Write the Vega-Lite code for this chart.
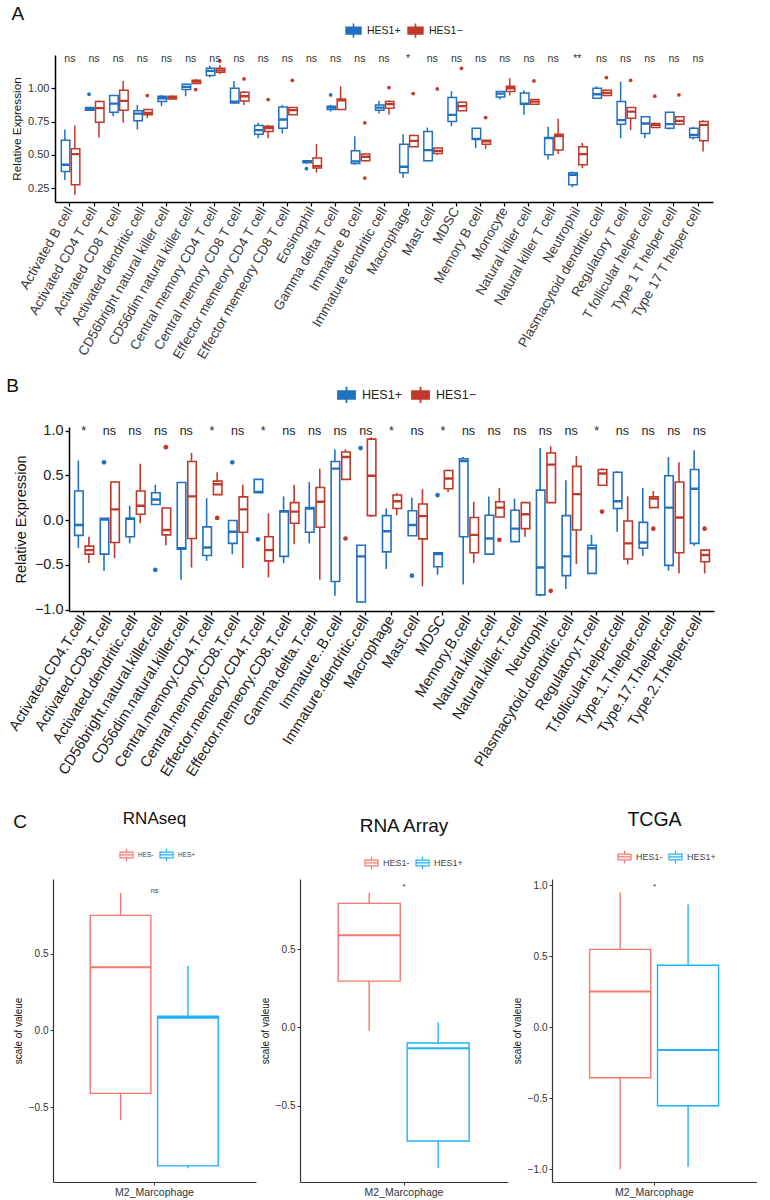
{
"$schema": "https://vega.github.io/schema/vega-lite/v6.json",
"padding": {"left": 5, "top": 5, "right": 0, "bottom": 0},
"background": "white",
"config": {
  "view": {"stroke": null},
  "font": "Liberation Sans",
  "axis": {"grid": false, "domainColor": "#000", "tickColor": "#000", "labelFont": "Liberation Sans", "titleFont": "Liberation Sans", "titleFontWeight": "normal", "titleColor": "#111", "labelColor": "#333"},
  "legend": {"labelFont": "Liberation Sans", "padding": 0},
  "title": {"font": "Liberation Sans", "fontWeight": "normal", "color": "#111"},
  "text": {"font": "Liberation Sans"}
},
"datasets": {
  "aBox": [
    {"cell":"Activated B cell","g":"HES1+","lo":0.31,"q1":0.375,"med":0.425,"q3":0.61,"hi":0.69},
    {"cell":"Activated B cell","g":"HES1−","lo":0.2,"q1":0.275,"med":0.505,"q3":0.545,"hi":0.72},
    {"cell":"Activated CD4 T cell","g":"HES1+","lo":0.83,"q1":0.835,"med":0.845,"q3":0.855,"hi":0.86},
    {"cell":"Activated CD4 T cell","g":"HES1−","lo":0.63,"q1":0.745,"med":0.85,"q3":0.9,"hi":0.91},
    {"cell":"Activated CD8 T cell","g":"HES1+","lo":0.79,"q1":0.82,"med":0.885,"q3":0.945,"hi":0.95},
    {"cell":"Activated CD8 T cell","g":"HES1−","lo":0.74,"q1":0.835,"med":0.905,"q3":0.985,"hi":1.055},
    {"cell":"Activated dendritic cell","g":"HES1+","lo":0.69,"q1":0.755,"med":0.81,"q3":0.83,"hi":0.875},
    {"cell":"Activated dendritic cell","g":"HES1−","lo":0.775,"q1":0.8,"med":0.815,"q3":0.84,"hi":0.845},
    {"cell":"CD56bright natural killer cell","g":"HES1+","lo":0.865,"q1":0.9,"med":0.925,"q3":0.94,"hi":0.95},
    {"cell":"CD56bright natural killer cell","g":"HES1−","lo":0.915,"q1":0.92,"med":0.93,"q3":0.94,"hi":0.945},
    {"cell":"CD56dim natural killer cell","g":"HES1+","lo":0.94,"q1":0.99,"med":1.01,"q3":1.03,"hi":1.035},
    {"cell":"CD56dim natural killer cell","g":"HES1−","lo":1.03,"q1":1.035,"med":1.05,"q3":1.06,"hi":1.07},
    {"cell":"Central memory CD4 T cell","g":"HES1+","lo":1.08,"q1":1.095,"med":1.13,"q3":1.15,"hi":1.17},
    {"cell":"Central memory CD4 T cell","g":"HES1−","lo":1.105,"q1":1.12,"med":1.135,"q3":1.15,"hi":1.175},
    {"cell":"Central memory CD8 T cell","g":"HES1+","lo":0.885,"q1":0.89,"med":0.9,"q3":1.0,"hi":1.055},
    {"cell":"Central memory CD8 T cell","g":"HES1−","lo":0.875,"q1":0.905,"med":0.94,"q3":0.97,"hi":0.98},
    {"cell":"Effector memeory CD4 T cell","g":"HES1+","lo":0.625,"q1":0.655,"med":0.685,"q3":0.72,"hi":0.74},
    {"cell":"Effector memeory CD4 T cell","g":"HES1−","lo":0.625,"q1":0.675,"med":0.7,"q3":0.715,"hi":0.725},
    {"cell":"Effector memeory CD8 T cell","g":"HES1+","lo":0.66,"q1":0.7,"med":0.765,"q3":0.86,"hi":0.875},
    {"cell":"Effector memeory CD8 T cell","g":"HES1−","lo":0.8,"q1":0.8,"med":0.835,"q3":0.855,"hi":0.855},
    {"cell":"Eosinophil","g":"HES1+","lo":0.435,"q1":0.44,"med":0.45,"q3":0.455,"hi":0.46},
    {"cell":"Eosinophil","g":"HES1−","lo":0.365,"q1":0.4,"med":0.415,"q3":0.475,"hi":0.58},
    {"cell":"Gamma delta T cell","g":"HES1+","lo":0.825,"q1":0.84,"med":0.855,"q3":0.865,"hi":0.875},
    {"cell":"Gamma delta T cell","g":"HES1−","lo":0.84,"q1":0.84,"med":0.91,"q3":0.92,"hi":1.015},
    {"cell":"Immature B cell","g":"HES1+","lo":0.425,"q1":0.435,"med":0.45,"q3":0.53,"hi":0.64},
    {"cell":"Immature B cell","g":"HES1−","lo":0.45,"q1":0.455,"med":0.485,"q3":0.505,"hi":0.51},
    {"cell":"Immature dendritic cell","g":"HES1+","lo":0.81,"q1":0.835,"med":0.855,"q3":0.875,"hi":0.905},
    {"cell":"Immature dendritic cell","g":"HES1−","lo":0.8,"q1":0.85,"med":0.88,"q3":0.9,"hi":0.91},
    {"cell":"Macrophage","g":"HES1+","lo":0.325,"q1":0.365,"med":0.41,"q3":0.58,"hi":0.655},
    {"cell":"Macrophage","g":"HES1−","lo":0.56,"q1":0.56,"med":0.605,"q3":0.645,"hi":0.65},
    {"cell":"Mast cell","g":"HES1+","lo":0.45,"q1":0.455,"med":0.535,"q3":0.675,"hi":0.705},
    {"cell":"Mast cell","g":"HES1−","lo":0.5,"q1":0.51,"med":0.53,"q3":0.55,"hi":0.55},
    {"cell":"MDSC","g":"HES1+","lo":0.715,"q1":0.75,"med":0.8,"q3":0.93,"hi":0.98},
    {"cell":"MDSC","g":"HES1−","lo":0.83,"q1":0.83,"med":0.865,"q3":0.895,"hi":0.9},
    {"cell":"Memory B cell","g":"HES1+","lo":0.55,"q1":0.615,"med":0.62,"q3":0.7,"hi":0.7},
    {"cell":"Memory B cell","g":"HES1−","lo":0.545,"q1":0.58,"med":0.6,"q3":0.61,"hi":0.61},
    {"cell":"Monocyte","g":"HES1+","lo":0.915,"q1":0.935,"med":0.96,"q3":0.975,"hi":0.98},
    {"cell":"Monocyte","g":"HES1−","lo":0.945,"q1":0.975,"med":1.0,"q3":1.015,"hi":1.075},
    {"cell":"Natural killer cell","g":"HES1+","lo":0.8,"q1":0.88,"med":0.885,"q3":0.965,"hi":0.985},
    {"cell":"Natural killer cell","g":"HES1−","lo":0.88,"q1":0.88,"med":0.9,"q3":0.915,"hi":0.915},
    {"cell":"Natural killer T cell","g":"HES1+","lo":0.465,"q1":0.5,"med":0.625,"q3":0.63,"hi":0.71},
    {"cell":"Natural killer T cell","g":"HES1−","lo":0.505,"q1":0.535,"med":0.64,"q3":0.655,"hi":0.77},
    {"cell":"Neutrophil","g":"HES1+","lo":0.255,"q1":0.275,"med":0.35,"q3":0.365,"hi":0.375},
    {"cell":"Neutrophil","g":"HES1−","lo":0.4,"q1":0.425,"med":0.505,"q3":0.56,"hi":0.59},
    {"cell":"Plasmacytoid dendritic cell","g":"HES1+","lo":0.925,"q1":0.925,"med":0.955,"q3":1.0,"hi":1.015},
    {"cell":"Plasmacytoid dendritic cell","g":"HES1−","lo":0.94,"q1":0.945,"med":0.965,"q3":0.985,"hi":0.99},
    {"cell":"Regulatory T cell","g":"HES1+","lo":0.625,"q1":0.73,"med":0.76,"q3":0.9,"hi":1.05},
    {"cell":"Regulatory T cell","g":"HES1−","lo":0.685,"q1":0.775,"med":0.825,"q3":0.855,"hi":0.855},
    {"cell":"T follicular helper cell","g":"HES1+","lo":0.625,"q1":0.66,"med":0.735,"q3":0.785,"hi":0.79},
    {"cell":"T follicular helper cell","g":"HES1−","lo":0.705,"q1":0.705,"med":0.725,"q3":0.735,"hi":0.74},
    {"cell":"Type 1 T helper cell","g":"HES1+","lo":0.69,"q1":0.7,"med":0.73,"q3":0.82,"hi":0.82},
    {"cell":"Type 1 T helper cell","g":"HES1−","lo":0.73,"q1":0.73,"med":0.755,"q3":0.785,"hi":0.79},
    {"cell":"Type 17 T helper cell","g":"HES1+","lo":0.615,"q1":0.63,"med":0.65,"q3":0.7,"hi":0.71},
    {"cell":"Type 17 T helper cell","g":"HES1−","lo":0.525,"q1":0.605,"med":0.725,"q3":0.75,"hi":0.76}
  ],
  "aOut": [
    {"cell":"Activated CD4 T cell","g":"HES1+","v":0.955},
    {"cell":"Activated dendritic cell","g":"HES1−","v":0.945},
    {"cell":"CD56dim natural killer cell","g":"HES1−","v":0.99},
    {"cell":"Central memory CD4 T cell","g":"HES1−","v":1.205},
    {"cell":"Central memory CD8 T cell","g":"HES1−","v":1.07},
    {"cell":"Effector memeory CD4 T cell","g":"HES1−","v":0.915},
    {"cell":"Effector memeory CD8 T cell","g":"HES1−","v":1.06},
    {"cell":"Eosinophil","g":"HES1+","v":0.395},
    {"cell":"Gamma delta T cell","g":"HES1+","v":0.95},
    {"cell":"Immature B cell","g":"HES1−","v":0.74},
    {"cell":"Immature B cell","g":"HES1−","v":0.325},
    {"cell":"Immature dendritic cell","g":"HES1−","v":1.005},
    {"cell":"Macrophage","g":"HES1−","v":0.96},
    {"cell":"Mast cell","g":"HES1−","v":0.995},
    {"cell":"MDSC","g":"HES1−","v":1.15},
    {"cell":"Memory B cell","g":"HES1−","v":0.78},
    {"cell":"Natural killer cell","g":"HES1−","v":1.055},
    {"cell":"Plasmacytoid dendritic cell","g":"HES1−","v":1.08},
    {"cell":"Regulatory T cell","g":"HES1−","v":1.06},
    {"cell":"T follicular helper cell","g":"HES1−","v":0.94},
    {"cell":"Type 1 T helper cell","g":"HES1−","v":0.95}
  ],
  "aSig": [
    {"cell":"Activated B cell","lab":"ns"},{"cell":"Activated CD4 T cell","lab":"ns"},{"cell":"Activated CD8 T cell","lab":"ns"},{"cell":"Activated dendritic cell","lab":"ns"},{"cell":"CD56bright natural killer cell","lab":"ns"},{"cell":"CD56dim natural killer cell","lab":"ns"},{"cell":"Central memory CD4 T cell","lab":"ns"},{"cell":"Central memory CD8 T cell","lab":"ns"},{"cell":"Effector memeory CD4 T cell","lab":"ns"},{"cell":"Effector memeory CD8 T cell","lab":"ns"},{"cell":"Eosinophil","lab":"ns"},{"cell":"Gamma delta T cell","lab":"ns"},{"cell":"Immature B cell","lab":"ns"},{"cell":"Immature dendritic cell","lab":"ns"},{"cell":"Macrophage","lab":"*"},{"cell":"Mast cell","lab":"ns"},{"cell":"MDSC","lab":"ns"},{"cell":"Memory B cell","lab":"ns"},{"cell":"Monocyte","lab":"ns"},{"cell":"Natural killer cell","lab":"ns"},{"cell":"Natural killer T cell","lab":"ns"},{"cell":"Neutrophil","lab":"**"},{"cell":"Plasmacytoid dendritic cell","lab":"ns"},{"cell":"Regulatory T cell","lab":"ns"},{"cell":"T follicular helper cell","lab":"ns"},{"cell":"Type 1 T helper cell","lab":"ns"},{"cell":"Type 17 T helper cell","lab":"ns"}
  ],
  "bBox": [
    {"cell":"Activated.CD4.T.cell","g":"HES1+","lo":-0.31,"q1":-0.17,"med":-0.055,"q3":0.325,"hi":0.665},
    {"cell":"Activated.CD4.T.cell","g":"HES1−","lo":-0.48,"q1":-0.38,"med":-0.335,"q3":-0.29,"hi":-0.185},
    {"cell":"Activated.CD8.T.cell","g":"HES1+","lo":-0.565,"q1":-0.38,"med":0.005,"q3":0.02,"hi":0.02},
    {"cell":"Activated.CD8.T.cell","g":"HES1−","lo":-0.425,"q1":-0.25,"med":0.12,"q3":0.425,"hi":0.435},
    {"cell":"Activated.dendritic.cell","g":"HES1+","lo":-0.26,"q1":-0.185,"med":0.015,"q3":0.02,"hi":0.16},
    {"cell":"Activated.dendritic.cell","g":"HES1−","lo":-0.035,"q1":0.065,"med":0.16,"q3":0.325,"hi":0.63},
    {"cell":"CD56bright.natural.killer.cell","g":"HES1+","lo":0.175,"q1":0.175,"med":0.23,"q3":0.305,"hi":0.395},
    {"cell":"CD56bright.natural.killer.cell","g":"HES1−","lo":-0.28,"q1":-0.165,"med":-0.11,"q3":0.135,"hi":0.135},
    {"cell":"CD56dim.natural.killer.cell","g":"HES1+","lo":-0.665,"q1":-0.325,"med":-0.315,"q3":0.42,"hi":0.42},
    {"cell":"CD56dim.natural.killer.cell","g":"HES1−","lo":-0.53,"q1":-0.205,"med":0.265,"q3":0.655,"hi":0.75},
    {"cell":"Central.memory.CD4.T.cell","g":"HES1+","lo":-0.455,"q1":-0.395,"med":-0.305,"q3":-0.075,"hi":0.245},
    {"cell":"Central.memory.CD4.T.cell","g":"HES1−","lo":0.285,"q1":0.285,"med":0.4,"q3":0.435,"hi":0.535},
    {"cell":"Central.memory.CD8.T.cell","g":"HES1+","lo":-0.38,"q1":-0.26,"med":-0.13,"q3":-0.005,"hi":-0.005},
    {"cell":"Central.memory.CD8.T.cell","g":"HES1−","lo":-0.535,"q1":-0.135,"med":0.12,"q3":0.26,"hi":0.395},
    {"cell":"Effector.memeory.CD4.T.cell","g":"HES1+","lo":0.305,"q1":0.305,"med":0.315,"q3":0.455,"hi":0.455},
    {"cell":"Effector.memeory.CD4.T.cell","g":"HES1−","lo":-0.64,"q1":-0.455,"med":-0.335,"q3":-0.185,"hi":0.075},
    {"cell":"Effector.memeory.CD8.T.cell","g":"HES1+","lo":-0.48,"q1":-0.405,"med":0.095,"q3":0.105,"hi":0.265},
    {"cell":"Effector.memeory.CD8.T.cell","g":"HES1−","lo":-0.27,"q1":-0.035,"med":0.095,"q3":0.195,"hi":0.395},
    {"cell":"Gamma.delta.T.cell","g":"HES1+","lo":-0.26,"q1":-0.135,"med":0.13,"q3":0.14,"hi":0.425},
    {"cell":"Gamma.delta.T.cell","g":"HES1−","lo":-0.665,"q1":-0.08,"med":0.205,"q3":0.365,"hi":0.575},
    {"cell":"Immature..B.cell","g":"HES1+","lo":-0.845,"q1":-0.685,"med":0.575,"q3":0.655,"hi":0.79},
    {"cell":"Immature..B.cell","g":"HES1−","lo":0.455,"q1":0.455,"med":0.705,"q3":0.76,"hi":0.79},
    {"cell":"Immature.dendritic.cell","g":"HES1+","lo":-0.925,"q1":-0.915,"med":-0.405,"q3":-0.28,"hi":-0.28},
    {"cell":"Immature.dendritic.cell","g":"HES1−","lo":0.035,"q1":0.05,"med":0.495,"q3":0.905,"hi":0.925},
    {"cell":"Macrophage","g":"HES1+","lo":-0.545,"q1":-0.355,"med":-0.125,"q3":0.05,"hi":0.13},
    {"cell":"Macrophage","g":"HES1−","lo":0.055,"q1":0.13,"med":0.21,"q3":0.28,"hi":0.305},
    {"cell":"Mast.cell","g":"HES1+","lo":-0.175,"q1":-0.175,"med":-0.055,"q3":0.105,"hi":0.25},
    {"cell":"Mast.cell","g":"HES1−","lo":-0.74,"q1":-0.21,"med":0.045,"q3":0.18,"hi":0.345},
    {"cell":"MDSC","g":"HES1+","lo":-0.61,"q1":-0.52,"med":-0.38,"q3":-0.365,"hi":-0.365},
    {"cell":"MDSC","g":"HES1−","lo":0.315,"q1":0.35,"med":0.465,"q3":0.555,"hi":0.565},
    {"cell":"Memory.B.cell","g":"HES1+","lo":-0.72,"q1":-0.185,"med":0.66,"q3":0.685,"hi":0.705},
    {"cell":"Memory.B.cell","g":"HES1−","lo":-0.48,"q1":-0.365,"med":-0.165,"q3":0.03,"hi":0.205},
    {"cell":"Natural.killer.cell","g":"HES1+","lo":-0.38,"q1":-0.38,"med":-0.205,"q3":0.055,"hi":0.265},
    {"cell":"Natural.killer.cell","g":"HES1−","lo":0.035,"q1":0.035,"med":0.14,"q3":0.205,"hi":0.36},
    {"cell":"Natural.killer.T.cell","g":"HES1+","lo":-0.24,"q1":-0.24,"med":-0.095,"q3":0.11,"hi":0.24},
    {"cell":"Natural.killer.T.cell","g":"HES1−","lo":-0.185,"q1":-0.095,"med":0.065,"q3":0.195,"hi":0.205},
    {"cell":"Neutrophil","g":"HES1+","lo":-0.85,"q1":-0.835,"med":-0.53,"q3":0.335,"hi":0.805},
    {"cell":"Neutrophil","g":"HES1−","lo":0.195,"q1":0.195,"med":0.62,"q3":0.75,"hi":0.825},
    {"cell":"Plasmacytoid.dendritic.cell","g":"HES1+","lo":-0.77,"q1":-0.62,"med":-0.405,"q3":0.05,"hi":0.445},
    {"cell":"Plasmacytoid.dendritic.cell","g":"HES1−","lo":-0.49,"q1":-0.11,"med":0.29,"q3":0.6,"hi":0.715},
    {"cell":"Regulatory.T.cell","g":"HES1+","lo":-0.595,"q1":-0.595,"med":-0.315,"q3":-0.28,"hi":-0.165},
    {"cell":"Regulatory.T.cell","g":"HES1−","lo":0.39,"q1":0.39,"med":0.52,"q3":0.565,"hi":0.58},
    {"cell":"T.follicular.helper.cell","g":"HES1+","lo":-0.13,"q1":0.13,"med":0.21,"q3":0.535,"hi":0.545},
    {"cell":"T.follicular.helper.cell","g":"HES1−","lo":-0.495,"q1":-0.435,"med":-0.26,"q3":-0.01,"hi":0.265},
    {"cell":"Type.1.T.helper.cell","g":"HES1+","lo":-0.4,"q1":-0.315,"med":-0.25,"q3":-0.025,"hi":0.36},
    {"cell":"Type.1.T.helper.cell","g":"HES1−","lo":0.14,"q1":0.14,"med":0.24,"q3":0.26,"hi":0.325},
    {"cell":"Type.17.T.helper.cell","g":"HES1+","lo":-0.565,"q1":-0.505,"med":0.14,"q3":0.495,"hi":0.705},
    {"cell":"Type.17.T.helper.cell","g":"HES1−","lo":-0.595,"q1":-0.365,"med":0.03,"q3":0.425,"hi":0.645},
    {"cell":"Type.2.T.helper.cell","g":"HES1+","lo":-0.285,"q1":-0.26,"med":0.35,"q3":0.565,"hi":0.78},
    {"cell":"Type.2.T.helper.cell","g":"HES1−","lo":-0.595,"q1":-0.465,"med":-0.39,"q3":-0.335,"hi":-0.335}
  ],
  "bOut": [
    {"cell":"Activated.CD8.T.cell","g":"HES1+","v":0.645},
    {"cell":"CD56bright.natural.killer.cell","g":"HES1+","v":-0.555},
    {"cell":"CD56bright.natural.killer.cell","g":"HES1−","v":0.815},
    {"cell":"Central.memory.CD4.T.cell","g":"HES1−","v":0.025},
    {"cell":"Central.memory.CD8.T.cell","g":"HES1+","v":0.645},
    {"cell":"Effector.memeory.CD4.T.cell","g":"HES1+","v":-0.215},
    {"cell":"Immature..B.cell","g":"HES1−","v":-0.205},
    {"cell":"Immature.dendritic.cell","g":"HES1+","v":0.805},
    {"cell":"Mast.cell","g":"HES1+","v":-0.62},
    {"cell":"MDSC","g":"HES1+","v":0.28},
    {"cell":"Natural.killer.cell","g":"HES1−","v":-0.22},
    {"cell":"Neutrophil","g":"HES1−","v":-0.79},
    {"cell":"Regulatory.T.cell","g":"HES1−","v":0.095},
    {"cell":"Type.1.T.helper.cell","g":"HES1−","v":-0.095},
    {"cell":"Type.2.T.helper.cell","g":"HES1−","v":-0.095}
  ],
  "bSig": [
    {"cell":"Activated.CD4.T.cell","lab":"*"},{"cell":"Activated.CD8.T.cell","lab":"ns"},{"cell":"Activated.dendritic.cell","lab":"ns"},{"cell":"CD56bright.natural.killer.cell","lab":"ns"},{"cell":"CD56dim.natural.killer.cell","lab":"ns"},{"cell":"Central.memory.CD4.T.cell","lab":"*"},{"cell":"Central.memory.CD8.T.cell","lab":"ns"},{"cell":"Effector.memeory.CD4.T.cell","lab":"*"},{"cell":"Effector.memeory.CD8.T.cell","lab":"ns"},{"cell":"Gamma.delta.T.cell","lab":"ns"},{"cell":"Immature..B.cell","lab":"ns"},{"cell":"Immature.dendritic.cell","lab":"ns"},{"cell":"Macrophage","lab":"*"},{"cell":"Mast.cell","lab":"ns"},{"cell":"MDSC","lab":"*"},{"cell":"Memory.B.cell","lab":"ns"},{"cell":"Natural.killer.cell","lab":"ns"},{"cell":"Natural.killer.T.cell","lab":"ns"},{"cell":"Neutrophil","lab":"ns"},{"cell":"Plasmacytoid.dendritic.cell","lab":"ns"},{"cell":"Regulatory.T.cell","lab":"*"},{"cell":"T.follicular.helper.cell","lab":"ns"},{"cell":"Type.1.T.helper.cell","lab":"ns"},{"cell":"Type.17.T.helper.cell","lab":"ns"},{"cell":"Type.2.T.helper.cell","lab":"ns"}
  ],
  "cR": [
    {"grp":"M2_Marcophage","g":"HES-","lo":-0.585,"q1":-0.41,"med":0.41,"q3":0.748,"hi":0.895},
    {"grp":"M2_Marcophage","g":"HES+","lo":-0.897,"q1":-0.882,"med":0.082,"q3":0.092,"hi":0.42}
  ],
  "cA": [
    {"grp":"M2_Marcophage","g":"HES1-","lo":-0.022,"q1":0.296,"med":0.589,"q3":0.793,"hi":0.86},
    {"grp":"M2_Marcophage","g":"HES1+","lo":-0.9,"q1":-0.727,"med":-0.133,"q3":-0.1,"hi":0.033}
  ],
  "cT": [
    {"grp":"M2_Marcophage","g":"HES1-","lo":-0.998,"q1":-0.355,"med":0.252,"q3":0.548,"hi":0.948},
    {"grp":"M2_Marcophage","g":"HES1+","lo":-0.981,"q1":-0.552,"med":-0.16,"q3":0.436,"hi":0.864}
  ],
  "cRs": [{"grp":"M2_Marcophage","lab":"ns"}],
  "cAs": [{"grp":"M2_Marcophage","lab":"*"}],
  "cTs": [{"grp":"M2_Marcophage","lab":"*"}]
},
"vconcat": [
{
 "spacing": 0,
 "resolve": {"scale": {"color": "independent", "xOffset": "independent"}, "legend": {"color": "independent"}},
 "hconcat": [
 {"width": 6, "height": 1, "data": {"values": []}, "mark": {"type": "point", "opacity": 0}, "encoding": {}},
 {
  "width": 658, "height": 147,
  "title": {"text": "A", "anchor": "start", "frame": "bounds", "fontSize": 19, "offset": -2},
  "encoding": {"x": {"field": "cell", "type": "nominal", "title": null,
    "scale": {"type": "band", "domain": ["Activated B cell","Activated CD4 T cell","Activated CD8 T cell","Activated dendritic cell","CD56bright natural killer cell","CD56dim natural killer cell","Central memory CD4 T cell","Central memory CD8 T cell","Effector memeory CD4 T cell","Effector memeory CD8 T cell","Eosinophil","Gamma delta T cell","Immature B cell","Immature dendritic cell","Macrophage","Mast cell","MDSC","Memory B cell","Monocyte","Natural killer cell","Natural killer T cell","Neutrophil","Plasmacytoid dendritic cell","Regulatory T cell","T follicular helper cell","Type 1 T helper cell","Type 17 T helper cell"], "paddingInner": 0.17, "paddingOuter": 0.2},
    "axis": {"labelAngle": -60, "labelAlign": "right", "labelBaseline": "middle", "labelFontSize": 13.5, "labelColor": "#3a3a3a", "labelLimit": 400, "tickSize": 4, "domainWidth": 1.5, "tickWidth": 1.2, "labelPadding": 2}}},
  "layer": [
    {"data": {"name": "aBox"}, "mark": {"type": "rule", "strokeWidth": 1.5},
     "encoding": {"xOffset": {"field": "g", "type": "nominal", "scale": {"domain": ["HES1+","HES1−"], "range": [0, 20], "paddingInner": 0, "paddingOuter": 0}},
       "y": {"field": "lo", "type": "quantitative", "title": "Relative Expression", "scale": {"domain": [0.145, 1.25], "nice": false, "zero": false},
         "axis": {"values": [0.25, 0.5, 0.75, 1.0], "format": ".2f", "labelFontSize": 11, "titleFontSize": 11.7, "tickSize": 4, "domainWidth": 1.5, "tickWidth": 1.2, "titlePadding": 5}},
       "y2": {"field": "q1"},
       "color": {"field": "g", "type": "nominal", "scale": {"domain": ["HES1+","HES1−"], "range": ["#2171c0","#c0392b"]},
         "legend": {"title": null, "orient": "none", "legendX": 290, "legendY": -33, "direction": "horizontal", "symbolType": "M-1,-0.45H1V0.45H-1Z M-1,0H1 M0,-0.45V-0.95 M0,0.45V0.95", "symbolSize": 220, "symbolStrokeWidth": 1.6, "labelFontSize": 10.5, "labelColor": "#222", "columnPadding": 3, "labelOffset": 5, "encode": {"symbols": {"update": {"fill": {"value": "white"}}}}}}}},
    {"data": {"name": "aBox"}, "mark": {"type": "rule", "strokeWidth": 1.5},
     "encoding": {"xOffset": {"field": "g", "type": "nominal", "scale": {"domain": ["HES1+","HES1−"], "range": [0, 20], "paddingInner": 0, "paddingOuter": 0}},
       "y": {"field": "q3", "type": "quantitative", "title": "Relative Expression", "scale": {"domain": [0.145, 1.25], "nice": false, "zero": false},
         "axis": {"values": [0.25, 0.5, 0.75, 1.0], "format": ".2f", "labelFontSize": 11, "titleFontSize": 11.7, "tickSize": 4, "domainWidth": 1.5, "tickWidth": 1.2, "titlePadding": 5}},
       "y2": {"field": "hi"},
       "color": {"field": "g", "type": "nominal", "scale": {"domain": ["HES1+","HES1−"], "range": ["#2171c0","#c0392b"]}, "legend": null}}},
    {"data": {"name": "aBox"}, "mark": {"type": "bar", "filled": false, "strokeWidth": 1.5, "width": {"band": 0.85}},
     "encoding": {"xOffset": {"field": "g", "type": "nominal", "scale": {"domain": ["HES1+","HES1−"], "range": [0, 20], "paddingInner": 0, "paddingOuter": 0}},
       "y": {"field": "q1", "type": "quantitative", "title": "Relative Expression", "scale": {"domain": [0.145, 1.25], "nice": false, "zero": false},
         "axis": {"values": [0.25, 0.5, 0.75, 1.0], "format": ".2f", "labelFontSize": 11, "titleFontSize": 11.7, "tickSize": 4, "domainWidth": 1.5, "tickWidth": 1.2, "titlePadding": 5}},
       "y2": {"field": "q3"},
       "color": {"field": "g", "type": "nominal", "scale": {"domain": ["HES1+","HES1−"], "range": ["#2171c0","#c0392b"]}, "legend": null}}},
    {"data": {"name": "aBox"}, "mark": {"type": "bar", "filled": false, "strokeWidth": 2.3, "width": {"band": 0.85}},
     "encoding": {"xOffset": {"field": "g", "type": "nominal", "scale": {"domain": ["HES1+","HES1−"], "range": [0, 20], "paddingInner": 0, "paddingOuter": 0}},
       "y": {"field": "med", "type": "quantitative", "title": "Relative Expression", "scale": {"domain": [0.145, 1.25], "nice": false, "zero": false},
         "axis": {"values": [0.25, 0.5, 0.75, 1.0], "format": ".2f", "labelFontSize": 11, "titleFontSize": 11.7, "tickSize": 4, "domainWidth": 1.5, "tickWidth": 1.2, "titlePadding": 5}},
       "y2": {"field": "med"},
       "color": {"field": "g", "type": "nominal", "scale": {"domain": ["HES1+","HES1−"], "range": ["#2171c0","#c0392b"]}, "legend": null}}},
    {"data": {"name": "aOut"}, "mark": {"type": "point", "filled": true, "size": 14, "opacity": 1},
     "encoding": {"xOffset": {"field": "g", "type": "nominal", "scale": {"domain": ["HES1+","HES1−"], "range": [0, 20], "paddingInner": 0, "paddingOuter": 0}},
       "y": {"field": "v", "type": "quantitative", "title": "Relative Expression", "scale": {"domain": [0.145, 1.25], "nice": false, "zero": false},
         "axis": {"values": [0.25, 0.5, 0.75, 1.0], "format": ".2f", "labelFontSize": 11, "titleFontSize": 11.7, "tickSize": 4, "domainWidth": 1.5, "tickWidth": 1.2, "titlePadding": 5}},
       "color": {"field": "g", "type": "nominal", "scale": {"domain": ["HES1+","HES1−"], "range": ["#2171c0","#c0392b"]}, "legend": null}}},
    {"data": {"name": "aSig"}, "mark": {"type": "text", "fontSize": 10.5, "color": "#333"},
     "encoding": {"y": {"datum": 1.22, "type": "quantitative", "title": "Relative Expression", "scale": {"domain": [0.145, 1.25], "nice": false, "zero": false},
         "axis": {"values": [0.25, 0.5, 0.75, 1.0], "format": ".2f", "labelFontSize": 11, "titleFontSize": 11.7, "tickSize": 4, "domainWidth": 1.5, "tickWidth": 1.2, "titlePadding": 5}}, "text": {"field": "lab"}}}
  ]
 }
 ]
},
{
 "spacing": 30,
 "resolve": {"scale": {"color": "independent", "xOffset": "independent"}, "legend": {"color": "independent"}},
 "vconcat": [
{
 "spacing": 0,
 "resolve": {"scale": {"color": "independent", "xOffset": "independent"}, "legend": {"color": "independent"}},
 "hconcat": [
 {"width": 1, "height": 1, "data": {"values": []}, "mark": {"type": "point", "opacity": 0}, "encoding": {}},
 {
  "width": 645, "height": 184,
  "title": {"text": "B", "anchor": "start", "frame": "bounds", "fontSize": 19, "offset": -11},
  "encoding": {"x": {"field": "cell", "type": "nominal", "title": null,
    "scale": {"type": "band", "domain": ["Activated.CD4.T.cell","Activated.CD8.T.cell","Activated.dendritic.cell","CD56bright.natural.killer.cell","CD56dim.natural.killer.cell","Central.memory.CD4.T.cell","Central.memory.CD8.T.cell","Effector.memeory.CD4.T.cell","Effector.memeory.CD8.T.cell","Gamma.delta.T.cell","Immature..B.cell","Immature.dendritic.cell","Macrophage","Mast.cell","MDSC","Memory.B.cell","Natural.killer.cell","Natural.killer.T.cell","Neutrophil","Plasmacytoid.dendritic.cell","Regulatory.T.cell","T.follicular.helper.cell","Type.1.T.helper.cell","Type.17.T.helper.cell","Type.2.T.helper.cell"], "paddingInner": 0.22, "paddingOuter": 0.18},
    "axis": {"labelAngle": -58, "labelAlign": "right", "labelBaseline": "middle", "labelFontSize": 14.8, "labelColor": "#222", "labelLimit": 400, "tickSize": 4, "domainWidth": 1.5, "tickWidth": 1.3, "labelPadding": 2}}},
  "layer": [
    {"data": {"name": "bBox"}, "mark": {"type": "rule", "strokeWidth": 1.6},
     "encoding": {"xOffset": {"field": "g", "type": "nominal", "scale": {"domain": ["HES1+","HES1−"], "range": [0, 20], "paddingInner": 0.1, "paddingOuter": 0}},
       "y": {"field": "lo", "type": "quantitative", "title": "Relative Expression", "scale": {"domain": [-1.015, 1.04], "nice": false, "zero": false},
         "axis": {"values": [-1, -0.5, 0, 0.5, 1], "format": ".1f", "labelFontSize": 14.5, "labelColor": "#222", "titleFontSize": 14.5, "tickSize": 4, "domainWidth": 1.5, "tickWidth": 1.3, "titlePadding": 6}},
       "y2": {"field": "q1"},
       "color": {"field": "g", "type": "nominal", "scale": {"domain": ["HES1+","HES1−"], "range": ["#2171c0","#c0392b"]},
         "legend": {"title": null, "orient": "none", "legendX": 268, "legendY": -42, "direction": "horizontal", "symbolType": "M-1,-0.45H1V0.45H-1Z M-1,0H1 M0,-0.45V-0.95 M0,0.45V0.95", "symbolSize": 290, "symbolStrokeWidth": 1.8, "labelFontSize": 12.5, "labelColor": "#222", "columnPadding": 6, "labelOffset": 6, "encode": {"symbols": {"update": {"fill": {"value": "white"}}}}}}}},
    {"data": {"name": "bBox"}, "mark": {"type": "rule", "strokeWidth": 1.6},
     "encoding": {"xOffset": {"field": "g", "type": "nominal", "scale": {"domain": ["HES1+","HES1−"], "range": [0, 20], "paddingInner": 0.1, "paddingOuter": 0}},
       "y": {"field": "q3", "type": "quantitative", "title": "Relative Expression", "scale": {"domain": [-1.015, 1.04], "nice": false, "zero": false},
         "axis": {"values": [-1, -0.5, 0, 0.5, 1], "format": ".1f", "labelFontSize": 14.5, "labelColor": "#222", "titleFontSize": 14.5, "tickSize": 4, "domainWidth": 1.5, "tickWidth": 1.3, "titlePadding": 6}},
       "y2": {"field": "hi"},
       "color": {"field": "g", "type": "nominal", "scale": {"domain": ["HES1+","HES1−"], "range": ["#2171c0","#c0392b"]}, "legend": null}}},
    {"data": {"name": "bBox"}, "mark": {"type": "bar", "filled": false, "strokeWidth": 1.6, "width": {"band": 0.9}},
     "encoding": {"xOffset": {"field": "g", "type": "nominal", "scale": {"domain": ["HES1+","HES1−"], "range": [0, 20], "paddingInner": 0.1, "paddingOuter": 0}},
       "y": {"field": "q1", "type": "quantitative", "title": "Relative Expression", "scale": {"domain": [-1.015, 1.04], "nice": false, "zero": false},
         "axis": {"values": [-1, -0.5, 0, 0.5, 1], "format": ".1f", "labelFontSize": 14.5, "labelColor": "#222", "titleFontSize": 14.5, "tickSize": 4, "domainWidth": 1.5, "tickWidth": 1.3, "titlePadding": 6}},
       "y2": {"field": "q3"},
       "color": {"field": "g", "type": "nominal", "scale": {"domain": ["HES1+","HES1−"], "range": ["#2171c0","#c0392b"]}, "legend": null}}},
    {"data": {"name": "bBox"}, "mark": {"type": "bar", "filled": false, "strokeWidth": 2.4, "width": {"band": 0.9}},
     "encoding": {"xOffset": {"field": "g", "type": "nominal", "scale": {"domain": ["HES1+","HES1−"], "range": [0, 20], "paddingInner": 0.1, "paddingOuter": 0}},
       "y": {"field": "med", "type": "quantitative", "title": "Relative Expression", "scale": {"domain": [-1.015, 1.04], "nice": false, "zero": false},
         "axis": {"values": [-1, -0.5, 0, 0.5, 1], "format": ".1f", "labelFontSize": 14.5, "labelColor": "#222", "titleFontSize": 14.5, "tickSize": 4, "domainWidth": 1.5, "tickWidth": 1.3, "titlePadding": 6}},
       "y2": {"field": "med"},
       "color": {"field": "g", "type": "nominal", "scale": {"domain": ["HES1+","HES1−"], "range": ["#2171c0","#c0392b"]}, "legend": null}}},
    {"data": {"name": "bOut"}, "mark": {"type": "point", "filled": true, "size": 22, "opacity": 1},
     "encoding": {"xOffset": {"field": "g", "type": "nominal", "scale": {"domain": ["HES1+","HES1−"], "range": [0, 20], "paddingInner": 0.1, "paddingOuter": 0}},
       "y": {"field": "v", "type": "quantitative", "title": "Relative Expression", "scale": {"domain": [-1.015, 1.04], "nice": false, "zero": false},
         "axis": {"values": [-1, -0.5, 0, 0.5, 1], "format": ".1f", "labelFontSize": 14.5, "labelColor": "#222", "titleFontSize": 14.5, "tickSize": 4, "domainWidth": 1.5, "tickWidth": 1.3, "titlePadding": 6}},
       "color": {"field": "g", "type": "nominal", "scale": {"domain": ["HES1+","HES1−"], "range": ["#2171c0","#c0392b"]}, "legend": null}}},
    {"data": {"name": "bSig"}, "mark": {"type": "text", "fontSize": 12.5, "color": "#222"},
     "encoding": {"y": {"datum": 0.99, "type": "quantitative", "title": "Relative Expression", "scale": {"domain": [-1.015, 1.04], "nice": false, "zero": false},
         "axis": {"values": [-1, -0.5, 0, 0.5, 1], "format": ".1f", "labelFontSize": 14.5, "labelColor": "#222", "titleFontSize": 14.5, "tickSize": 4, "domainWidth": 1.5, "tickWidth": 1.3, "titlePadding": 6}}, "text": {"field": "lab"}}}
  ]
 }
 ]
},
{
 "spacing": 0,
 "resolve": {"scale": {"color": "independent", "xOffset": "independent"}, "legend": {"color": "independent"}},
 "hconcat": [
 {"width": 8, "height": 1, "data": {"values": []}, "mark": {"type": "point", "opacity": 0}, "encoding": {}},
 {
  "title": {"text": "C", "anchor": "start", "frame": "bounds", "fontSize": 19, "offset": 0, "dy": 22},
  "spacing": 4,
  "resolve": {"scale": {"color": "independent", "xOffset": "independent"}, "legend": {"color": "independent"}},
  "hconcat": [
    {
      "width": 203, "height": 303,
      "title": {"text": "RNAseq", "fontSize": 17, "offset": 19},
      "encoding": {"x": {"field": "grp", "type": "nominal", "title": null, "scale": {"type": "band", "paddingOuter": 0.29, "paddingInner": 0},
        "axis": {"labelAngle": 0, "labelFontSize": 10.5, "labelColor": "#333", "tickSize": 3, "domainColor": "#333", "tickColor": "#333", "domainWidth": 1.2}}},
      "layer": [
        {"data": {"name": "cR"}, "mark": {"type": "rule", "strokeWidth": 1.4},
         "encoding": {"xOffset": {"field": "g", "type": "nominal", "scale": {"domain": ["HES-","HES+"], "range": [0, 128], "paddingInner": 0.1, "paddingOuter": 0}},
           "y": {"field": "lo", "type": "quantitative", "title": "scale of valeue", "scale": {"domain": [-0.987, 0.985], "nice": false, "zero": false},
             "axis": {"values": [-0.5, 0, 0.5], "format": ".1f", "labelFontSize": 10, "titleFontSize": 10, "tickSize": 3, "domainColor": "#333", "tickColor": "#333", "domainWidth": 1.2, "titlePadding": 5}},
           "y2": {"field": "q1"},
           "color": {"field": "g", "type": "nominal", "scale": {"domain": ["HES-","HES+"], "range": ["#F8766D","#1FB3F5"]},
             "legend": {"title": null, "orient": "none", "legendX": 66, "legendY": -32, "direction": "horizontal", "symbolType": "M-1,-0.45H1V0.45H-1Z M-1,0H1 M0,-0.45V-0.95 M0,0.45V0.95", "symbolSize": 169, "symbolStrokeWidth": 1.2, "labelFontSize": 6.5, "labelColor": "#444", "columnPadding": 3, "labelOffset": 4, "encode": {"symbols": {"update": {"fill": {"value": "white"}}}}}}}},
        {"data": {"name": "cR"}, "mark": {"type": "rule", "strokeWidth": 1.4},
         "encoding": {"xOffset": {"field": "g", "type": "nominal", "scale": {"domain": ["HES-","HES+"], "range": [0, 128], "paddingInner": 0.1, "paddingOuter": 0}},
           "y": {"field": "q3", "type": "quantitative", "title": "scale of valeue", "scale": {"domain": [-0.987, 0.985], "nice": false, "zero": false},
             "axis": {"values": [-0.5, 0, 0.5], "format": ".1f", "labelFontSize": 10, "titleFontSize": 10, "tickSize": 3, "domainColor": "#333", "tickColor": "#333", "domainWidth": 1.2, "titlePadding": 5}},
           "y2": {"field": "hi"},
           "color": {"field": "g", "type": "nominal", "scale": {"domain": ["HES-","HES+"], "range": ["#F8766D","#1FB3F5"]}, "legend": null}}},
        {"data": {"name": "cR"}, "mark": {"type": "bar", "filled": false, "strokeWidth": 1.4, "width": {"band": 1}},
         "encoding": {"xOffset": {"field": "g", "type": "nominal", "scale": {"domain": ["HES-","HES+"], "range": [0, 128], "paddingInner": 0.1, "paddingOuter": 0}},
           "y": {"field": "q1", "type": "quantitative", "title": "scale of valeue", "scale": {"domain": [-0.987, 0.985], "nice": false, "zero": false},
             "axis": {"values": [-0.5, 0, 0.5], "format": ".1f", "labelFontSize": 10, "titleFontSize": 10, "tickSize": 3, "domainColor": "#333", "tickColor": "#333", "domainWidth": 1.2, "titlePadding": 5}},
           "y2": {"field": "q3"},
           "color": {"field": "g", "type": "nominal", "scale": {"domain": ["HES-","HES+"], "range": ["#F8766D","#1FB3F5"]}, "legend": null}}},
        {"data": {"name": "cR"}, "mark": {"type": "bar", "filled": false, "strokeWidth": 2, "width": {"band": 1}},
         "encoding": {"xOffset": {"field": "g", "type": "nominal", "scale": {"domain": ["HES-","HES+"], "range": [0, 128], "paddingInner": 0.1, "paddingOuter": 0}},
           "y": {"field": "med", "type": "quantitative", "title": "scale of valeue", "scale": {"domain": [-0.987, 0.985], "nice": false, "zero": false},
             "axis": {"values": [-0.5, 0, 0.5], "format": ".1f", "labelFontSize": 10, "titleFontSize": 10, "tickSize": 3, "domainColor": "#333", "tickColor": "#333", "domainWidth": 1.2, "titlePadding": 5}},
           "y2": {"field": "med"},
           "color": {"field": "g", "type": "nominal", "scale": {"domain": ["HES-","HES+"], "range": ["#F8766D","#1FB3F5"]}, "legend": null}}},
        {"data": {"name": "cRs"}, "mark": {"type": "text", "fontSize": 7, "color": "#333"},
         "encoding": {"y": {"datum": 0.91, "type": "quantitative", "title": "scale of valeue", "scale": {"domain": [-0.987, 0.985], "nice": false, "zero": false},
             "axis": {"values": [-0.5, 0, 0.5], "format": ".1f", "labelFontSize": 10, "titleFontSize": 10, "tickSize": 3, "domainColor": "#333", "tickColor": "#333", "domainWidth": 1.2, "titlePadding": 5}}, "text": {"field": "lab"}}}
      ]
    },
    {
      "width": 208, "height": 303,
      "title": {"text": "RNA Array", "fontSize": 19, "offset": 19},
      "encoding": {"x": {"field": "grp", "type": "nominal", "title": null, "scale": {"type": "band", "paddingOuter": 0.29, "paddingInner": 0},
        "axis": {"labelAngle": 0, "labelFontSize": 10.5, "labelColor": "#333", "tickSize": 3, "domainColor": "#333", "tickColor": "#333", "domainWidth": 1.2}}},
      "layer": [
        {"data": {"name": "cA"}, "mark": {"type": "rule", "strokeWidth": 1.4},
         "encoding": {"xOffset": {"field": "g", "type": "nominal", "scale": {"domain": ["HES1-","HES1+"], "range": [0, 131], "paddingInner": 0.1, "paddingOuter": 0}},
           "y": {"field": "lo", "type": "quantitative", "title": "scale of valeue", "scale": {"domain": [-0.989, 0.949], "nice": false, "zero": false},
             "axis": {"values": [-0.5, 0, 0.5], "format": ".1f", "labelFontSize": 10, "titleFontSize": 10, "tickSize": 3, "domainColor": "#333", "tickColor": "#333", "domainWidth": 1.2, "titlePadding": 5}},
           "y2": {"field": "q1"},
           "color": {"field": "g", "type": "nominal", "scale": {"domain": ["HES1-","HES1+"], "range": ["#F8766D","#1FB3F5"]},
             "legend": {"title": null, "orient": "none", "legendX": 64, "legendY": -24, "direction": "horizontal", "symbolType": "M-1,-0.45H1V0.45H-1Z M-1,0H1 M0,-0.45V-0.95 M0,0.45V0.95", "symbolSize": 169, "symbolStrokeWidth": 1.2, "labelFontSize": 9, "labelColor": "#444", "columnPadding": 3, "labelOffset": 4, "encode": {"symbols": {"update": {"fill": {"value": "white"}}}}}}}},
        {"data": {"name": "cA"}, "mark": {"type": "rule", "strokeWidth": 1.4},
         "encoding": {"xOffset": {"field": "g", "type": "nominal", "scale": {"domain": ["HES1-","HES1+"], "range": [0, 131], "paddingInner": 0.1, "paddingOuter": 0}},
           "y": {"field": "q3", "type": "quantitative", "title": "scale of valeue", "scale": {"domain": [-0.989, 0.949], "nice": false, "zero": false},
             "axis": {"values": [-0.5, 0, 0.5], "format": ".1f", "labelFontSize": 10, "titleFontSize": 10, "tickSize": 3, "domainColor": "#333", "tickColor": "#333", "domainWidth": 1.2, "titlePadding": 5}},
           "y2": {"field": "hi"},
           "color": {"field": "g", "type": "nominal", "scale": {"domain": ["HES1-","HES1+"], "range": ["#F8766D","#1FB3F5"]}, "legend": null}}},
        {"data": {"name": "cA"}, "mark": {"type": "bar", "filled": false, "strokeWidth": 1.4, "width": {"band": 1}},
         "encoding": {"xOffset": {"field": "g", "type": "nominal", "scale": {"domain": ["HES1-","HES1+"], "range": [0, 131], "paddingInner": 0.1, "paddingOuter": 0}},
           "y": {"field": "q1", "type": "quantitative", "title": "scale of valeue", "scale": {"domain": [-0.989, 0.949], "nice": false, "zero": false},
             "axis": {"values": [-0.5, 0, 0.5], "format": ".1f", "labelFontSize": 10, "titleFontSize": 10, "tickSize": 3, "domainColor": "#333", "tickColor": "#333", "domainWidth": 1.2, "titlePadding": 5}},
           "y2": {"field": "q3"},
           "color": {"field": "g", "type": "nominal", "scale": {"domain": ["HES1-","HES1+"], "range": ["#F8766D","#1FB3F5"]}, "legend": null}}},
        {"data": {"name": "cA"}, "mark": {"type": "bar", "filled": false, "strokeWidth": 2, "width": {"band": 1}},
         "encoding": {"xOffset": {"field": "g", "type": "nominal", "scale": {"domain": ["HES1-","HES1+"], "range": [0, 131], "paddingInner": 0.1, "paddingOuter": 0}},
           "y": {"field": "med", "type": "quantitative", "title": "scale of valeue", "scale": {"domain": [-0.989, 0.949], "nice": false, "zero": false},
             "axis": {"values": [-0.5, 0, 0.5], "format": ".1f", "labelFontSize": 10, "titleFontSize": 10, "tickSize": 3, "domainColor": "#333", "tickColor": "#333", "domainWidth": 1.2, "titlePadding": 5}},
           "y2": {"field": "med"},
           "color": {"field": "g", "type": "nominal", "scale": {"domain": ["HES1-","HES1+"], "range": ["#F8766D","#1FB3F5"]}, "legend": null}}},
        {"data": {"name": "cAs"}, "mark": {"type": "text", "fontSize": 8, "color": "#333"},
         "encoding": {"y": {"datum": 0.9, "type": "quantitative", "title": "scale of valeue", "scale": {"domain": [-0.989, 0.949], "nice": false, "zero": false},
             "axis": {"values": [-0.5, 0, 0.5], "format": ".1f", "labelFontSize": 10, "titleFontSize": 10, "tickSize": 3, "domainColor": "#333", "tickColor": "#333", "domainWidth": 1.2, "titlePadding": 5}}, "text": {"field": "lab"}}}
      ]
    },
    {
      "width": 205, "height": 303,
      "title": {"text": "TCGA", "fontSize": 19.5, "offset": 19},
      "encoding": {"x": {"field": "grp", "type": "nominal", "title": null, "scale": {"type": "band", "paddingOuter": 0.29, "paddingInner": 0},
        "axis": {"labelAngle": 0, "labelFontSize": 10.5, "labelColor": "#333", "tickSize": 3, "domainColor": "#333", "tickColor": "#333", "domainWidth": 1.2}}},
      "layer": [
        {"data": {"name": "cT"}, "mark": {"type": "rule", "strokeWidth": 1.4},
         "encoding": {"xOffset": {"field": "g", "type": "nominal", "scale": {"domain": ["HES1-","HES1+"], "range": [0, 129], "paddingInner": 0.1, "paddingOuter": 0}},
           "y": {"field": "lo", "type": "quantitative", "title": "scale of valeue", "scale": {"domain": [-1.088, 1.043], "nice": false, "zero": false},
             "axis": {"values": [-1, -0.5, 0, 0.5, 1], "format": ".1f", "labelFontSize": 10, "titleFontSize": 10, "tickSize": 3, "domainColor": "#333", "tickColor": "#333", "domainWidth": 1.2, "titlePadding": 5}},
           "y2": {"field": "q1"},
           "color": {"field": "g", "type": "nominal", "scale": {"domain": ["HES1-","HES1+"], "range": ["#F8766D","#1FB3F5"]},
             "legend": {"title": null, "orient": "none", "legendX": 65, "legendY": -30, "direction": "horizontal", "symbolType": "M-1,-0.45H1V0.45H-1Z M-1,0H1 M0,-0.45V-0.95 M0,0.45V0.95", "symbolSize": 169, "symbolStrokeWidth": 1.2, "labelFontSize": 9, "labelColor": "#444", "columnPadding": 3, "labelOffset": 4, "encode": {"symbols": {"update": {"fill": {"value": "white"}}}}}}}},
        {"data": {"name": "cT"}, "mark": {"type": "rule", "strokeWidth": 1.4},
         "encoding": {"xOffset": {"field": "g", "type": "nominal", "scale": {"domain": ["HES1-","HES1+"], "range": [0, 129], "paddingInner": 0.1, "paddingOuter": 0}},
           "y": {"field": "q3", "type": "quantitative", "title": "scale of valeue", "scale": {"domain": [-1.088, 1.043], "nice": false, "zero": false},
             "axis": {"values": [-1, -0.5, 0, 0.5, 1], "format": ".1f", "labelFontSize": 10, "titleFontSize": 10, "tickSize": 3, "domainColor": "#333", "tickColor": "#333", "domainWidth": 1.2, "titlePadding": 5}},
           "y2": {"field": "hi"},
           "color": {"field": "g", "type": "nominal", "scale": {"domain": ["HES1-","HES1+"], "range": ["#F8766D","#1FB3F5"]}, "legend": null}}},
        {"data": {"name": "cT"}, "mark": {"type": "bar", "filled": false, "strokeWidth": 1.4, "width": {"band": 1}},
         "encoding": {"xOffset": {"field": "g", "type": "nominal", "scale": {"domain": ["HES1-","HES1+"], "range": [0, 129], "paddingInner": 0.1, "paddingOuter": 0}},
           "y": {"field": "q1", "type": "quantitative", "title": "scale of valeue", "scale": {"domain": [-1.088, 1.043], "nice": false, "zero": false},
             "axis": {"values": [-1, -0.5, 0, 0.5, 1], "format": ".1f", "labelFontSize": 10, "titleFontSize": 10, "tickSize": 3, "domainColor": "#333", "tickColor": "#333", "domainWidth": 1.2, "titlePadding": 5}},
           "y2": {"field": "q3"},
           "color": {"field": "g", "type": "nominal", "scale": {"domain": ["HES1-","HES1+"], "range": ["#F8766D","#1FB3F5"]}, "legend": null}}},
        {"data": {"name": "cT"}, "mark": {"type": "bar", "filled": false, "strokeWidth": 2, "width": {"band": 1}},
         "encoding": {"xOffset": {"field": "g", "type": "nominal", "scale": {"domain": ["HES1-","HES1+"], "range": [0, 129], "paddingInner": 0.1, "paddingOuter": 0}},
           "y": {"field": "med", "type": "quantitative", "title": "scale of valeue", "scale": {"domain": [-1.088, 1.043], "nice": false, "zero": false},
             "axis": {"values": [-1, -0.5, 0, 0.5, 1], "format": ".1f", "labelFontSize": 10, "titleFontSize": 10, "tickSize": 3, "domainColor": "#333", "tickColor": "#333", "domainWidth": 1.2, "titlePadding": 5}},
           "y2": {"field": "med"},
           "color": {"field": "g", "type": "nominal", "scale": {"domain": ["HES1-","HES1+"], "range": ["#F8766D","#1FB3F5"]}, "legend": null}}},
        {"data": {"name": "cTs"}, "mark": {"type": "text", "fontSize": 8, "color": "#333"},
         "encoding": {"y": {"datum": 0.99, "type": "quantitative", "title": "scale of valeue", "scale": {"domain": [-1.088, 1.043], "nice": false, "zero": false},
             "axis": {"values": [-1, -0.5, 0, 0.5, 1], "format": ".1f", "labelFontSize": 10, "titleFontSize": 10, "tickSize": 3, "domainColor": "#333", "tickColor": "#333", "domainWidth": 1.2, "titlePadding": 5}}, "text": {"field": "lab"}}}
      ]
    }
  ]
 }
 ]
}
 ]
}
],
"spacing": 15,
"resolve": {"scale": {"color": "independent", "xOffset": "independent"}, "legend": {"color": "independent"}}
}
